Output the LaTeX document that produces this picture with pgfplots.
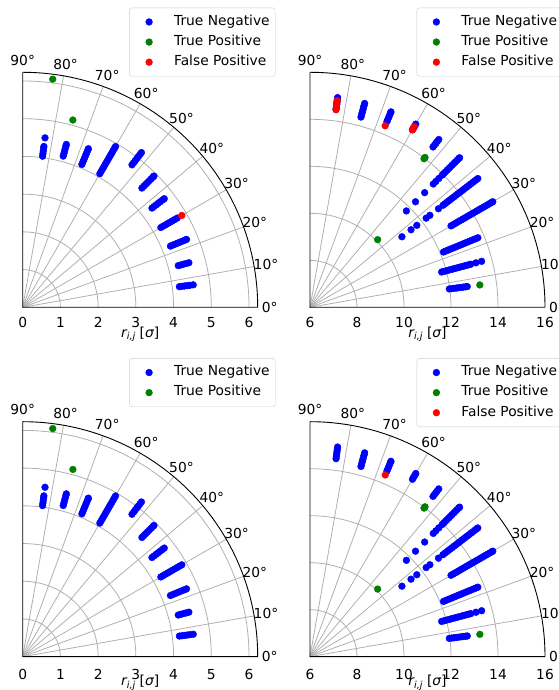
\documentclass[border=0pt]{standalone}
\usepackage{fontspec}
\setmainfont{DejaVu Sans}
\usepackage{pgfplots}
\usepackage{pgfplotstable}
\pgfplotsset{compat=1.18}
\definecolor{gridc}{HTML}{B0B0B0}
\definecolor{legc}{HTML}{CCCCCC}
\definecolor{mgreen}{HTML}{008000}

\newcommand{\rlabel}{{\itshape r}\raisebox{-2.8pt}{\fontsize{9.7pt}{10pt}\selectfont\itshape i,j} [{\itshape σ}]}

% frame of one quarter polar panel: #1 origin, #2 circle radii (pt), #3 ticks pos/label, #4 tick dy, #5 label dy
\newcommand{\polarframe}[5]{%
\begin{scope}[shift={#1}]
  \foreach \a in {10,20,...,80} \draw[gridc, line width=0.8pt] (0pt,0pt) -- (\a:235pt);
  \foreach \k in {#2} \draw[gridc, line width=0.8pt] (\k pt,0pt) arc[start angle=0, end angle=90, radius=\k pt];
  \draw[black, line width=0.9pt] (0pt,235pt) -- (0pt,0pt) -- (235pt,0pt) arc[start angle=0, end angle=90, radius=235pt];
  \foreach \a in {0,10,...,90} \node at (\a:247pt) {\a°};
  \foreach \p/\l in {#3} \node at (\p pt,#4) {\l};
  \node at (117.5pt,#5) {\rlabel};
\end{scope}}

\pgfplotsset{
  tn/.style={only marks, mark=*, mark size=3.4pt, color=blue},
  tp/.style={only marks, mark=*, mark size=3.4pt, color=mgreen},
  fp/.style={only marks, mark=*, mark size=3.4pt, color=red},
  panel/.style={anchor=south west, scale only axis, width=235pt, height=235pt,
    ymin=0, xmin=0, hide axis, clip=false,
    legend style={at={#1}, anchor=north west, draw=legc, rounded corners=2.5pt, fill=white,
      font=\fontsize{13.8pt}{16pt}\selectfont, inner xsep=5.5pt, inner ysep=7.5pt,
      row sep=6.9pt, column sep=11pt,
      nodes={inner sep=0pt, text height=9.9pt, text depth=3.3pt}},
    legend cell align=left,
    legend image code/.code={\path (0pt,0pt) (27.6pt,0pt);
      \draw[mark repeat=2,mark phase=2,##1] plot coordinates {(0pt,0pt) (13.8pt,0pt) (27.6pt,0pt)};},
  },
}

% angle t [deg], radius r [sigma]
\pgfplotstableread{
t r
82.5 4.04
82.5 4.11
82.5 4.18
82.5 4.25
82.5 4.30
82.5 4.53
75 4.15
75 4.22
75 4.29
75 4.36
75 4.43
75 4.47
67.5 4.10
67.5 4.17
67.5 4.24
67.5 4.31
67.5 4.38
67.5 4.45
67.5 4.52
67.5 4.55
60 4.09
60 4.16
60 4.23
60 4.30
60 4.37
60 4.44
60 4.51
60 4.58
60 4.65
60 4.72
60 4.79
60 4.86
60 4.92
52.5 4.76
52.5 4.83
52.5 4.90
52.5 4.97
52.5 5.04
52.5 5.11
52.5 5.17
45 4.47
45 4.54
45 4.61
45 4.68
45 4.75
45 4.82
45 4.89
45 4.92
37.5 4.32
37.5 4.39
37.5 4.46
37.5 4.53
37.5 4.60
37.5 4.67
37.5 4.73
30 4.23
30 4.30
30 4.37
30 4.44
30 4.51
30 4.58
30 4.65
30 4.73
22.5 4.24
22.5 4.31
22.5 4.38
22.5 4.45
22.5 4.52
22.5 4.59
22.5 4.66
22.5 4.70
15 4.27
15 4.34
15 4.41
15 4.48
15 4.56
7.5 4.19
7.5 4.26
7.5 4.33
7.5 4.40
7.5 4.47
7.5 4.56
}\leftTN

\pgfplotstableread{
t r
82.5 6.10
75 5.14
}\leftTP

\pgfplotstableread{
t r
30 4.87
}\tlFP

\pgfplotstableread{
t r
30 4.80
30 4.87
}\blExtra

\pgfplotstableread{
t r
82.5 14.50
82.5 14.60
82.5 14.70
82.5 14.80
82.5 14.90
82.5 15.00
75 14.38
75 14.48
75 14.58
75 14.68
75 14.78
75 14.88
75 14.98
67.5 14.55
67.5 14.65
67.5 14.75
67.5 14.85
67.5 14.95
67.5 15.00
60 14.72
60 14.80
60 14.90
60 15.00
52.5 14.60
52.5 14.70
52.5 14.80
52.5 14.90
52.5 15.00
45 11.80
45 12.35
45 12.90
45 13.42
45 13.57
45 13.75
45 13.95
45 14.05
45 14.15
45 14.25
45 14.35
45 14.45
45 14.55
45 14.65
45 14.75
45 14.85
45 14.95
45 15.00
37.5 10.93
37.5 11.42
37.5 11.73
37.5 12.23
37.5 12.43
37.5 12.89
37.5 13.13
37.5 13.23
37.5 13.33
37.5 13.43
37.5 13.53
37.5 13.63
37.5 13.73
37.5 13.83
37.5 13.93
37.5 14.03
37.5 14.13
37.5 14.23
37.5 14.33
37.5 14.43
37.5 14.53
37.5 14.63
37.5 14.73
37.5 14.83
37.5 14.93
37.5 15.00
30 12.93
30 13.03
30 13.13
30 13.23
30 13.33
30 13.43
30 13.53
30 13.63
30 13.73
30 13.83
30 13.93
30 14.03
30 14.13
30 14.23
30 14.33
30 14.43
30 14.53
30 14.63
30 14.73
30 14.83
30 14.93
30 14.98
22.5 12.15
22.5 12.25
22.5 12.35
22.5 12.45
22.5 12.55
22.5 12.65
22.5 12.75
22.5 12.85
22.5 12.95
22.5 13.05
22.5 13.15
22.5 13.25
22.5 13.35
22.5 13.45
22.5 13.55
22.5 13.65
22.5 13.73
15 11.80
15 11.90
15 12.00
15 12.10
15 12.20
15 12.30
15 12.40
15 12.50
15 12.60
15 12.70
15 12.80
15 12.90
15 13.00
15 13.08
15 13.31
15 13.56
7.5 11.98
7.5 12.08
7.5 12.18
7.5 12.28
7.5 12.38
7.5 12.48
7.5 12.58
7.5 12.68
7.5 12.75
}\rightTN

\pgfplotstableread{
t r
52.5 13.97
52.5 14.04
45 10.07
7.5 13.29
}\rightTP

\pgfplotstableread{
t r
82.5 14.48
82.5 14.56
82.5 14.64
82.5 14.72
82.5 14.80
82.5 14.87
67.5 14.36
60 14.72
60 14.80
60 14.87
}\trFP

\pgfplotstableread{
t r
67.5 14.37
}\brFP

\begin{document}
\begin{tikzpicture}[font=\fontsize{13.8pt}{16pt}\selectfont]

\polarframe{(22.7pt,382.7pt)}{37.72,75.44,113.16,150.88,188.6,226.32}{0/0,37.72/1,75.44/2,113.16/3,150.88/4,188.6/5,226.32/6}{-15pt}{-27pt}
\polarframe{(310pt,382.7pt)}{47,94,141,188}{0/6,47/8,94/10,141/12,188/14,235/16}{-15pt}{-27pt}
\polarframe{(22.7pt,33.3pt)}{37.72,75.44,113.16,150.88,188.6,226.32}{0/0,37.72/1,75.44/2,113.16/3,150.88/4,188.6/5,226.32/6}{-18pt}{-26pt}
\polarframe{(310pt,33.3pt)}{47,94,141,188}{0/6,47/8,94/10,141/12,188/14,235/16}{-18pt}{-26pt}

% top left
\begin{axis}[panel={(0.454,1.275)}, at={(22.7pt,382.7pt)}, xmax=6.23, ymax=6.23]
\addplot[tn] table[x expr={\thisrow{r}*cos(\thisrow{t})}, y expr={\thisrow{r}*sin(\thisrow{t})}] {\leftTN};
\addlegendentry{True Negative}
\addplot[tp] table[x expr={\thisrow{r}*cos(\thisrow{t})}, y expr={\thisrow{r}*sin(\thisrow{t})}] {\leftTP};
\addlegendentry{True Positive}
\addplot[fp] table[x expr={\thisrow{r}*cos(\thisrow{t})}, y expr={\thisrow{r}*sin(\thisrow{t})}] {\tlFP};
\addlegendentry{False Positive}
\end{axis}

% top right
\begin{axis}[panel={(0.454,1.275)}, at={(310pt,382.7pt)}, xmax=10, ymax=10]
\addplot[tn] table[x expr={(\thisrow{r}-6)*cos(\thisrow{t})}, y expr={(\thisrow{r}-6)*sin(\thisrow{t})}] {\rightTN};
\addlegendentry{True Negative}
\addplot[tp] table[x expr={(\thisrow{r}-6)*cos(\thisrow{t})}, y expr={(\thisrow{r}-6)*sin(\thisrow{t})}] {\rightTP};
\addlegendentry{True Positive}
\addplot[fp] table[x expr={(\thisrow{r}-6)*cos(\thisrow{t})}, y expr={(\thisrow{r}-6)*sin(\thisrow{t})}] {\trFP};
\addlegendentry{False Positive}
\end{axis}

% bottom left
\begin{axis}[panel={(0.454,1.27)}, at={(22.7pt,33.3pt)}, xmax=6.23, ymax=6.23]
\addplot[tn] table[x expr={\thisrow{r}*cos(\thisrow{t})}, y expr={\thisrow{r}*sin(\thisrow{t})}] {\leftTN};
\addlegendentry{True Negative}
\addplot[tp] table[x expr={\thisrow{r}*cos(\thisrow{t})}, y expr={\thisrow{r}*sin(\thisrow{t})}] {\leftTP};
\addlegendentry{True Positive}
\addplot[tn, forget plot] table[x expr={\thisrow{r}*cos(\thisrow{t})}, y expr={\thisrow{r}*sin(\thisrow{t})}] {\blExtra};
\end{axis}

% bottom right
\begin{axis}[panel={(0.454,1.27)}, at={(310pt,33.3pt)}, xmax=10, ymax=10]
\addplot[tn] table[x expr={(\thisrow{r}-6)*cos(\thisrow{t})}, y expr={(\thisrow{r}-6)*sin(\thisrow{t})}] {\rightTN};
\addlegendentry{True Negative}
\addplot[tp] table[x expr={(\thisrow{r}-6)*cos(\thisrow{t})}, y expr={(\thisrow{r}-6)*sin(\thisrow{t})}] {\rightTP};
\addlegendentry{True Positive}
\addplot[fp] table[x expr={(\thisrow{r}-6)*cos(\thisrow{t})}, y expr={(\thisrow{r}-6)*sin(\thisrow{t})}] {\brFP};
\addlegendentry{False Positive}
\end{axis}

\pgfresetboundingbox
\path[use as bounding box] (0pt,0pt) rectangle (558pt,690pt);
\end{tikzpicture}
\end{document}
